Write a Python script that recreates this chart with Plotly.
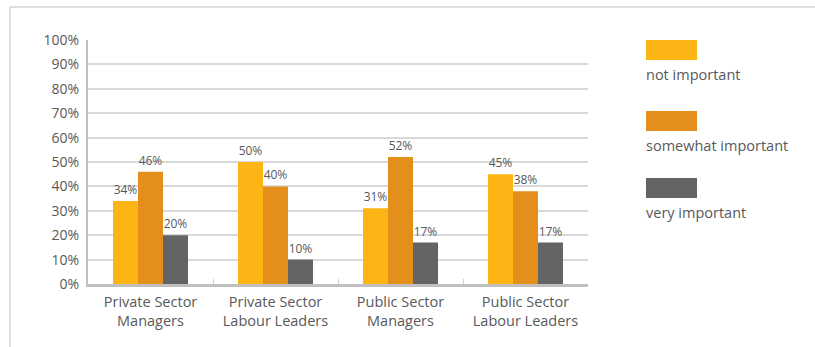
import plotly.graph_objects as go

categories = ["Private Sector<br>Managers", "Private Sector<br>Labour Leaders",
              "Public Sector<br>Managers", "Public Sector<br>Labour Leaders"]
series_names = ["not important", "somewhat important", "very important"]
not_important = [34, 50, 31, 45]
somewhat_important = [46, 40, 52, 38]
very_important = [20, 10, 17, 17]
y_ticks = [0, 10, 20, 30, 40, 50, 60, 70, 80, 90, 100]

colors = ["#FDB515", "#E48F1C", "#636466"]
text_color = "#58595b"
font_family = "Open Sans, Noto Sans, sans-serif"

fig = go.Figure()
for name, vals, col in zip(series_names, [not_important, somewhat_important, very_important], colors):
    fig.add_trace(go.Bar(
        x=categories, y=vals, name=name, marker=dict(color=col, line=dict(width=0)),
        text=[f"{v}%" for v in vals], textposition="outside", cliponaxis=False,
        constraintext="none", textfont=dict(size=12, color=text_color, family=font_family),
        showlegend=False,
    ))

W, H = 815, 347
ml, mr, mt, mb = 88, 227, 40, 63

def px(x):
    return (x - ml) / (W - ml - mr)

def py(y):
    return (H - mb - y) / (H - mt - mb)

shapes = [
    # frame lines along top and left
    dict(type="line", xref="paper", yref="paper", x0=px(10), x1=px(815), y0=py(7), y1=py(7),
         line=dict(color="#d4d4d4", width=1.5)),
    dict(type="line", xref="paper", yref="paper", x0=px(10), x1=px(10), y0=py(7), y1=py(347),
         line=dict(color="#d4d4d4", width=1.5)),
]
annotations = []
legend_tops = [40, 111, 178]
for name, col, top in zip(series_names, colors, legend_tops):
    shapes.append(dict(type="rect", xref="paper", yref="paper", x0=px(646), x1=px(697),
                       y0=py(top + 20), y1=py(top), fillcolor=col, line=dict(width=0)))
    annotations.append(dict(xref="paper", yref="paper", x=px(644), y=py(top + 34),
                            text=name, showarrow=False, xanchor="left", yanchor="middle",
                            font=dict(size=14.5, color=text_color, family=font_family)))

fig.update_layout(
    width=W, height=H, margin=dict(l=ml, r=mr, t=mt, b=mb),
    paper_bgcolor="white", plot_bgcolor="white",
    barmode="group", bargap=0.4, bargroupgap=0,
    shapes=shapes, annotations=annotations,
    font=dict(family=font_family, color=text_color, size=14),
    xaxis=dict(showline=True, linecolor="#c0c0c0", linewidth=3, ticks="inside",
               tickson="boundaries", ticklen=5, tickcolor="#d0d0d0", tickwidth=1,
               ticklabelstandoff=3, tickfont=dict(size=14.5, color=text_color)),
    yaxis=dict(range=[0, 100], tickvals=y_ticks, ticktext=[f"{t}%" for t in y_ticks],
               showgrid=True, gridcolor="#d9d9d9", gridwidth=1.5,
               showline=True, linecolor="#c0c0c0", linewidth=2,
               zeroline=False, ticklabelstandoff=4, tickfont=dict(size=14, color=text_color)),
)

fig.write_html("out.html")
